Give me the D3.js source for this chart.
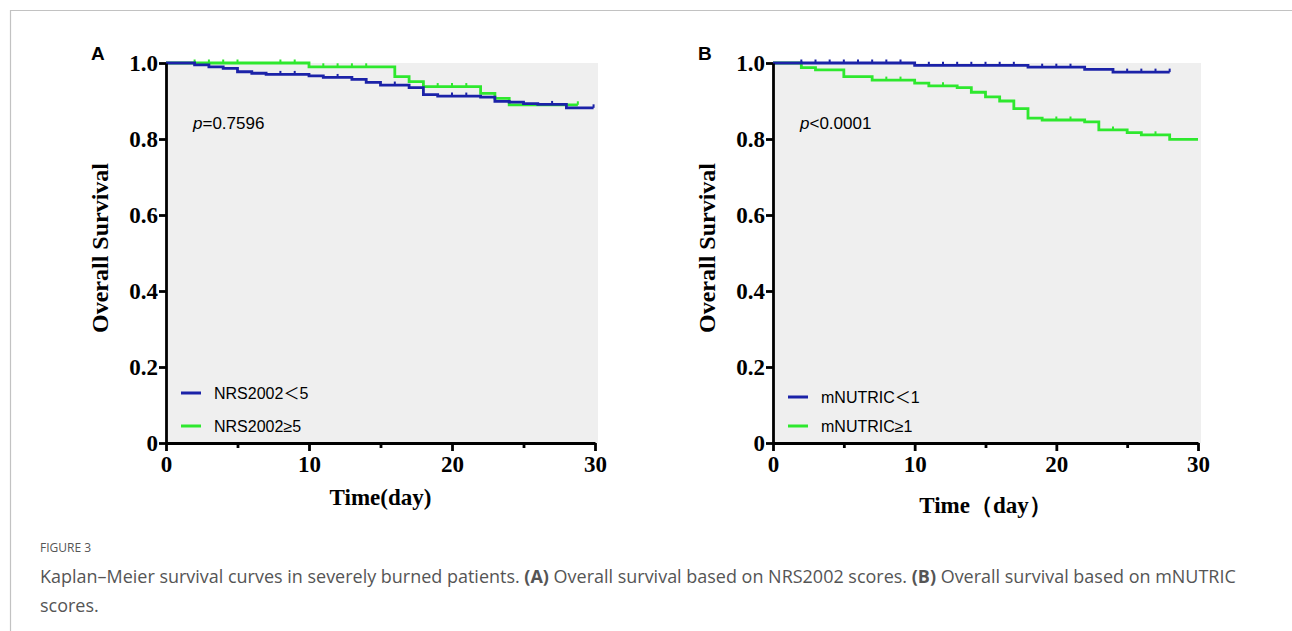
<!DOCTYPE html>
<html>
<head>
<meta charset="utf-8">
<script src="https://cdn.jsdelivr.net/npm/d3@7"></script>
<style>
  body { margin: 0; background: #fff; }
</style>
</head>
<body>
<div id="chart"></div>
<script>
// ---- data ----
const xTicks = [0, 10, 20, 30];
const xMinorTicks = [5, 15, 25];
const yTicks = [0, 0.2, 0.4, 0.6, 0.8, 1.0];

// panel A : NRS2002
const nrsLowTime = [0, 2, 3, 4, 5, 6, 7, 10, 11, 13, 14, 15, 17, 18, 19, 22, 23, 24, 25, 26, 28, 29.9];
const nrsLowSurv = [1, 0.995, 0.99, 0.986, 0.977, 0.973, 0.97, 0.966, 0.962, 0.957, 0.949, 0.942, 0.935, 0.917, 0.913, 0.91, 0.899, 0.897, 0.893, 0.891, 0.882, 0.882];
const nrsLowCensor = [8, 9, 12, 16, 20, 21, 27, 29.9];

const nrsHighTime = [0, 10, 16, 17, 18, 22, 23, 24, 28.8];
const nrsHighSurv = [1, 0.99, 0.964, 0.951, 0.938, 0.92, 0.907, 0.89, 0.89];
const nrsHighCensor = [2, 3, 4, 5, 8, 9, 11, 12, 13, 14, 19, 20, 21, 28.8];

// panel B : mNUTRIC
const nutLowTime = [0, 10, 18, 22, 24, 28];
const nutLowSurv = [1, 0.994, 0.989, 0.983, 0.976, 0.976];
const nutLowCensor = [2, 3, 4, 5, 6, 7, 8, 9, 11, 12, 13, 14, 15, 16, 17, 19, 20, 21, 25, 26, 27, 28];

const nutHighTime = [0, 2, 3, 5, 7, 10, 11, 13, 14, 15, 16, 17, 18, 19, 22, 23, 25, 26, 28, 30];
const nutHighSurv = [1, 0.988, 0.982, 0.964, 0.955, 0.947, 0.94, 0.935, 0.923, 0.911, 0.9, 0.88, 0.855, 0.85, 0.845, 0.824, 0.817, 0.811, 0.799, 0.799];
const nutHighCensor = [8, 9, 12, 20, 21, 24, 27];

const blue = "#1b22a8", green = "#2ee82e";
const serif = "'Liberation Serif', 'Times New Roman', serif";
const sans = "'Liberation Sans', Arial, 'Noto Sans CJK SC', sans-serif";

const svg = d3.select("#chart").append("svg")
    .attr("width", 1292)
    .attr("height", 631);

// outer frame (box of the page)
svg.append("path")
    .attr("d", "M10.5,631 V10.5 H1292")
    .attr("fill", "none")
    .attr("stroke", "#c2c2c2")
    .attr("stroke-width", 1.2);

function stepValue(times, surv, t) {
  let v = surv[0];
  for (let i = 0; i < times.length; i++) if (times[i] <= t) v = surv[i];
  return v;
}

function drawPanel(p) {
  const x = d3.scaleLinear().domain([0, 30]).range([p.left, p.right]);
  const y = d3.scaleLinear().domain([0, 1]).range([443, 63]);
  const g = svg.append("g");

  // grey plot area
  g.append("rect")
    .attr("x", x(0)).attr("y", y(1))
    .attr("width", x(30) - x(0) + 3).attr("height", y(0) - y(1))
    .attr("fill", "#efefef");

  // curves: green first, blue on top
  const line = d3.line().curve(d3.curveStepAfter).x(d => x(d[0])).y(d => y(d[1]));
  p.series.forEach(s => {
    const pts = s.time.map((t, i) => [t, s.surv[i]]);
    g.append("path")
      .attr("d", line(pts))
      .attr("fill", "none")
      .attr("stroke", s.color)
      .attr("stroke-width", 2.8);
    g.selectAll(null)
      .data(s.censor)
      .join("line")
        .attr("x1", d => x(d)).attr("x2", d => x(d))
        .attr("y1", d => y(stepValue(s.time, s.surv, d)))
        .attr("y2", d => y(stepValue(s.time, s.surv, d)) - 3.5)
        .attr("stroke", s.color)
        .attr("stroke-width", 2);
  });

  // y axis
  g.append("g")
    .attr("transform", `translate(${x(0)},0)`)
    .call(d3.axisLeft(y).tickValues(yTicks)
      .tickFormat(d => d === 0 ? "0" : d.toFixed(1))
      .tickSize(7).tickSizeOuter(0).tickPadding(1));

  // x axis
  g.append("g")
    .attr("transform", `translate(0,${y(0)})`)
    .call(d3.axisBottom(x).tickValues(xTicks).tickSize(8).tickSizeOuter(0).tickPadding(5));
  g.append("g")
    .attr("transform", `translate(0,${y(0)})`)
    .call(d3.axisBottom(x).tickValues(xMinorTicks).tickSize(5).tickSizeOuter(0).tickFormat(""))
    .select(".domain").remove();

  g.selectAll(".domain, .tick line")
    .attr("stroke", "#000")
    .attr("stroke-width", 2.8);
  g.selectAll(".tick text")
    .attr("fill", "#000")
    .style("font-family", serif)
    .style("font-weight", "bold")
    .style("font-size", "23px");

  // axis titles
  g.append("text")
    .attr("transform", `translate(${p.left - 58},248) rotate(-90)`)
    .attr("text-anchor", "middle")
    .style("font-family", serif).style("font-weight", "bold").style("font-size", "24px")
    .text("Overall Survival");
  g.append("text")
    .attr("x", (x(0) + x(30)) / 2).attr("y", p.xTitleY)
    .attr("text-anchor", "middle")
    .style("font-family", serif).style("font-weight", "bold").style("font-size", "23px")
    .text(p.xTitle);

  // panel letter
  g.append("text")
    .attr("x", p.left - 75).attr("y", 60)
    .style("font-family", sans).style("font-weight", "bold").style("font-size", "19px")
    .text(p.letter);

  // p value
  const pt = g.append("text")
    .attr("x", p.left + 27).attr("y", 129)
    .style("font-family", sans).style("font-size", "17px");
  pt.append("tspan").style("font-style", "italic").text("p");
  pt.append("tspan").text(p.pText);

  // legend
  p.legend.forEach((l, i) => {
    const ly = p.legendY + i * p.legendGap;
    g.append("line")
      .attr("x1", p.left + 15).attr("x2", p.left + 35)
      .attr("y1", ly).attr("y2", ly)
      .attr("stroke", l.color).attr("stroke-width", 3);
    g.append("text")
      .attr("x", p.left + 48).attr("y", ly)
      .attr("dy", "0.35em")
      .style("font-family", sans).style("font-size", "16px")
      .text(l.label);
  });
}

drawPanel({
  left: 166, right: 595, letter: "A", pText: "=0.7596",
  xTitle: "Time(day)", xTitleY: 505,
  legendY: 393, legendGap: 33,
  series: [
    {time: nrsHighTime, surv: nrsHighSurv, censor: nrsHighCensor, color: green},
    {time: nrsLowTime, surv: nrsLowSurv, censor: nrsLowCensor, color: blue}
  ],
  legend: [{label: "NRS2002＜5", color: blue}, {label: "NRS2002≥5", color: green}]
});

drawPanel({
  left: 773, right: 1198, letter: "B", pText: "<0.0001",
  xTitle: "Time（day）", xTitleY: 513,
  legendY: 397, legendGap: 29,
  series: [
    {time: nutHighTime, surv: nutHighSurv, censor: nutHighCensor, color: green},
    {time: nutLowTime, surv: nutLowSurv, censor: nutLowCensor, color: blue}
  ],
  legend: [{label: "mNUTRIC＜1", color: blue}, {label: "mNUTRIC≥1", color: green}]
});

// caption
const capFont = "'Open Sans', 'Noto Sans', sans-serif";
svg.append("text")
  .attr("x", 40).attr("y", 552)
  .attr("fill", "#555")
  .style("font-family", capFont).style("font-size", "12px")
  .text("FIGURE 3");

const cap1 = svg.append("text")
  .attr("x", 40).attr("y", 583)
  .attr("fill", "#555")
  .style("font-family", capFont).style("font-size", "16px");
cap1.append("tspan").text("Kaplan–Meier survival curves in severely burned patients. ");
cap1.append("tspan").style("font-weight", "bold").text("(A)");
cap1.append("tspan").text(" Overall survival based on NRS2002 scores. ");
cap1.append("tspan").style("font-weight", "bold").text("(B)");
cap1.append("tspan").text(" Overall survival based on mNUTRIC");

// fit the caption width to the figure's text block
const w1 = cap1.node().getComputedTextLength();
const size1 = 16 * 1196 / w1;
cap1.style("font-size", size1 + "px");

svg.append("text")
  .attr("x", 40).attr("y", 612)
  .attr("fill", "#555")
  .style("font-family", capFont).style("font-size", size1 + "px")
  .text("scores.");
</script>
</body>
</html>
